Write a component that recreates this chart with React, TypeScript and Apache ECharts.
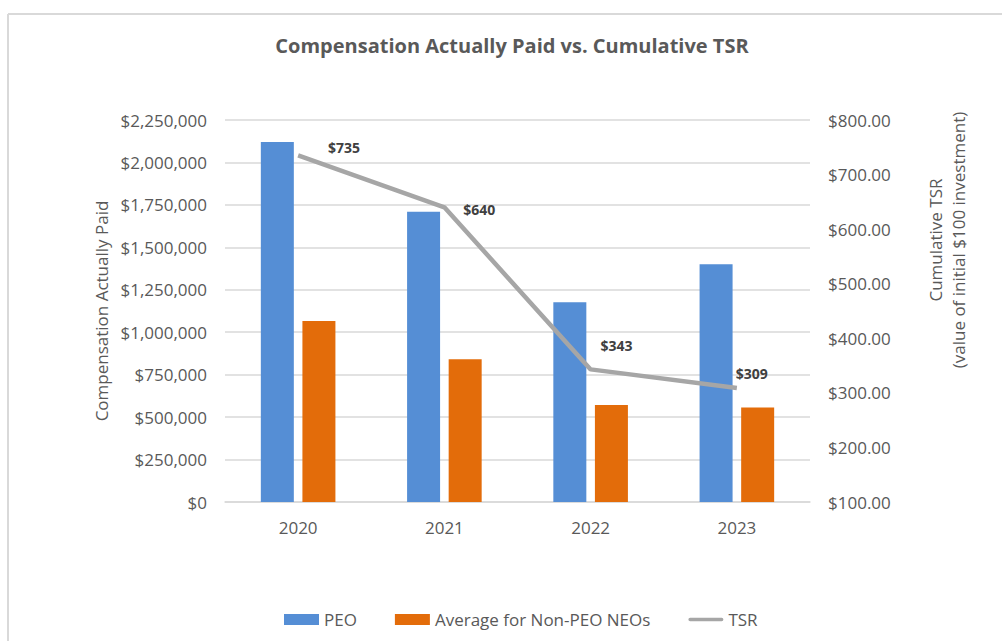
import React, { useEffect, useRef } from "react";
import * as echarts from "echarts";

const categories = ["2020", "2021", "2022", "2023"];
const peoValues = [2120000, 1710000, 1176000, 1400000];
const nonPeoValues = [1066000, 841000, 572000, 557000];
const tsrValues = [735, 640, 343, 309];
const tsrLabelOffsets = [
  [46, -8],
  [35, 2],
  [26, -24],
  [15, -14],
];
const seriesNames = ["PEO", "Average for Non-PEO NEOs", "TSR"];

const FONT = "'Open Sans', sans-serif";
const TEXT = "#595959";
const FS = 17;

export default function App() {
  const ref = useRef<HTMLDivElement>(null);
  useEffect(() => {
    if (!ref.current) return;
    const chart = echarts.init(ref.current, null, { renderer: "svg" });
    chart.setOption({
      animation: false,
      backgroundColor: "#ffffff",
      textStyle: { fontFamily: FONT },
      grid: { left: 225, right: 192, top: 120, bottom: 139, containLabel: false },
      legend: {
        left: 279,
        top: 606,
        itemWidth: 35,
        itemHeight: 11,
        itemGap: 38,
        textStyle: { fontSize: FS, color: TEXT, fontFamily: FONT },
        data: [
          { name: seriesNames[0], icon: "rect" },
          { name: seriesNames[1], icon: "rect" },
          {
            name: seriesNames[2],
            icon: "path://M2,0 L38,0 A2,2 0 0 1 38,4 L2,4 A2,2 0 0 1 2,0 Z",
            itemStyle: { color: "#A6A6A6", opacity: 1 },
          },
        ],
      },
      xAxis: {
        type: "category",
        data: categories,
        axisLine: { show: true, lineStyle: { color: "#d9d9d9", width: 1.5 } },
        axisTick: { show: false },
        axisLabel: { color: TEXT, fontSize: FS, margin: 17, fontFamily: FONT },
      },
      yAxis: [
        {
          type: "value",
          min: 0,
          max: 2250000,
          interval: 250000,
          name: "Compensation Actually Paid",
          nameLocation: "middle",
          nameGap: 115,
          nameTextStyle: { color: TEXT, fontSize: FS, fontFamily: FONT },
          axisLine: { show: false },
          axisTick: { show: false },
          splitLine: { lineStyle: { color: "#d9d9d9", width: 1.5 } },
          axisLabel: {
            color: TEXT,
            fontSize: FS,
            margin: 18,
            fontFamily: FONT,
            formatter: (v: number) => "$" + v.toLocaleString("en-US"),
          },
        },
        {
          type: "value",
          min: 100,
          max: 800,
          interval: 100,
          position: "right",
          axisLine: { show: false },
          axisTick: { show: false },
          splitLine: { show: false },
          axisLabel: {
            color: TEXT,
            fontSize: FS,
            margin: 18,
            fontFamily: FONT,
            formatter: (v: number) => "$" + v.toFixed(2),
          },
        },
      ],
      series: [
        {
          name: seriesNames[0],
          type: "bar",
          data: peoValues,
          barWidth: 33,
          barGap: "26%",
          itemStyle: { color: "#558ED5" },
        },
        {
          name: seriesNames[1],
          type: "bar",
          data: nonPeoValues,
          barWidth: 33,
          barGap: "26%",
          itemStyle: { color: "#E36C0A" },
        },
        {
          name: seriesNames[2],
          type: "line",
          yAxisIndex: 1,
          data: tsrValues.map((v, i) => ({
            value: v,
            label: { offset: tsrLabelOffsets[i] },
          })),
          symbol: "circle",
          symbolSize: 0.01,
          showSymbol: true,
          itemStyle: { color: "#A6A6A6" },
          lineStyle: { color: "#A6A6A6", width: 4.5 },
          label: {
            show: true,
            position: "inside",
            formatter: (p: any) => "$" + p.value,
            color: "#404040",
            fontWeight: "bold",
            fontSize: 14,
            fontFamily: FONT,
          },
        },
      ],
      graphic: [
        {
          type: "line",
          shape: { x1: 8, y1: 14, x2: 1002, y2: 14 },
          style: { stroke: "#d9d9d9", lineWidth: 2 },
          silent: true,
        },
        {
          type: "line",
          shape: { x1: 8, y1: 14, x2: 8, y2: 641 },
          style: { stroke: "#d9d9d9", lineWidth: 2 },
          silent: true,
        },
        {
          type: "text",
          x: 512,
          y: 45,
          style: {
            text: "Compensation Actually Paid vs. Cumulative TSR",
            fill: TEXT,
            font: "bold 20px 'Open Sans', sans-serif",
            textAlign: "center",
            textVerticalAlign: "middle",
          },
        },
        {
          type: "text",
          x: 947,
          y: 240,
          rotation: Math.PI / 2,
          style: {
            text: "Cumulative TSR\n(value of initial $100 investment)",
            fill: TEXT,
            font: FS + "px 'Open Sans', sans-serif",
            lineHeight: 23,
            textAlign: "center",
            textVerticalAlign: "middle",
          },
        },
      ],
    });
    return () => chart.dispose();
  }, []);
  return (
    <div
      ref={ref}
      style={{ position: "fixed", left: 0, top: 0, width: 1002, height: 641 }}
    />
  );
}
